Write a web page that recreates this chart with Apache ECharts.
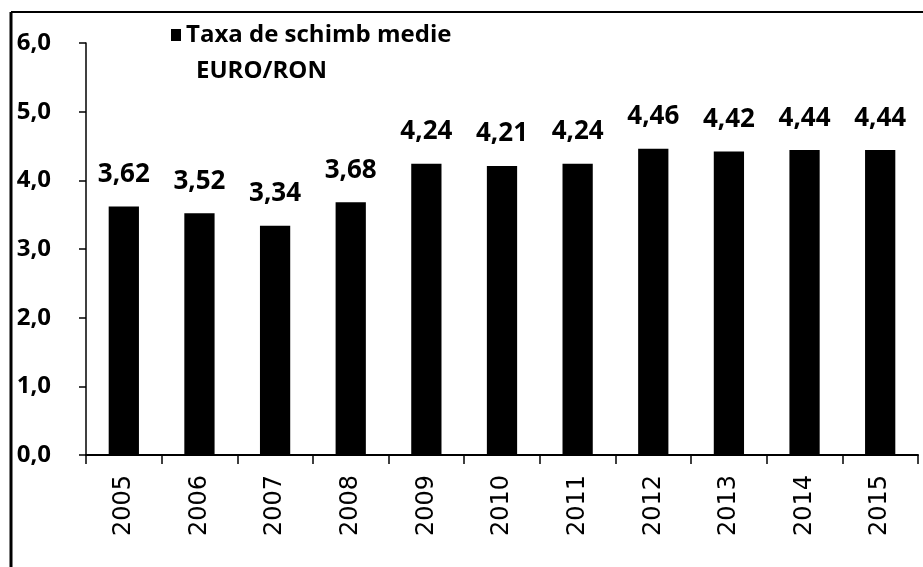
<!DOCTYPE html>
<html>
<head>
<meta charset="utf-8">
<script src="https://cdn.jsdelivr.net/npm/echarts@6/dist/echarts.min.js"></script>
<style>
  html, body { margin: 0; padding: 0; background: #fff; }
  #chart { width: 923px; height: 567px; }
</style>
</head>
<body>
<div id="chart"></div>
<script>
// data
var years = ['2005', '2006', '2007', '2008', '2009', '2010', '2011', '2012', '2013', '2014', '2015'];
var rates = [3.62, 3.52, 3.34, 3.68, 4.24, 4.21, 4.24, 4.46, 4.42, 4.44, 4.44];
var seriesName = 'Taxa de schimb medie';
var seriesUnit = 'EURO/RON';

var font = 'Open Sans';

function comma(v, d) {
    return Number(v).toFixed(d).replace('.', ',');
}

var myChart = echarts.init(document.getElementById('chart'));

var option = {
    backgroundColor: '#fff',
    animation: false,
    textStyle: { fontFamily: font },
    // second legend line
    title: {
        text: seriesUnit,
        left: 191,
        top: 54,
        textStyle: { color: '#000', fontWeight: 'bold', fontSize: 24, fontFamily: font }
    },
    legend: {
        left: 166,
        top: 18,
        icon: 'rect',
        itemWidth: 10,
        itemHeight: 12,
        itemGap: 5,
        data: [seriesName],
        textStyle: {
            color: '#000',
            fontWeight: 'bold',
            fontSize: 24,
            fontFamily: font
        }
    },
    grid: {
        left: 86,
        right: 5,
        top: 43,
        bottom: 112,
        containLabel: false
    },
    xAxis: {
        type: 'category',
        data: years,
        boundaryGap: true,
        axisLine: { lineStyle: { color: '#000', width: 2 } },
        axisTick: { show: true, alignWithLabel: false, length: 9, lineStyle: { color: '#000', width: 1.5 } },
        axisLabel: {
            rotate: 90,
            color: '#000',
            fontSize: 24,
            margin: 20,
            fontFamily: 'DejaVu Sans'
        }
    },
    yAxis: {
        type: 'value',
        min: 0,
        max: 6,
        interval: 1,
        splitLine: { show: false },
        axisLine: { show: true, lineStyle: { color: '#000', width: 1.5 } },
        axisTick: { show: true, length: 7, lineStyle: { color: '#000', width: 1.5 } },
        axisLabel: {
            color: '#000',
            fontWeight: 'bold',
            fontSize: 24,
            margin: 35,
            formatter: function (v) { return comma(v, 1); }
        }
    },
    series: [{
        name: seriesName,
        type: 'bar',
        data: rates,
        barWidth: '40%',
        itemStyle: { color: '#000' },
        label: {
            show: true,
            position: 'top',
            distance: 19,
            color: '#000',
            fontWeight: 'bold',
            fontSize: 26,
            fontFamily: font,
            formatter: function (p) { return comma(p.value, 2); }
        }
    }],
    graphic: [
        { type: 'line', shape: { x1: 11, y1: 12, x2: 11, y2: 567 }, style: { stroke: '#000', lineWidth: 3 } },
        { type: 'line', shape: { x1: 11, y1: 12, x2: 923, y2: 12 }, style: { stroke: '#000', lineWidth: 2 } }
    ]
};

myChart.setOption(option);
</script>
</body>
</html>
